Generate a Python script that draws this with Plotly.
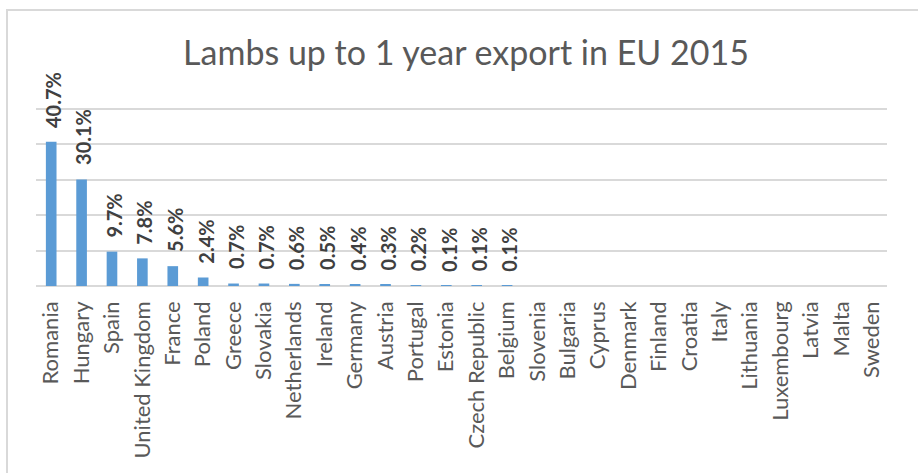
import plotly.graph_objects as go

countries = ["Romania", "Hungary", "Spain", "United Kingdom", "France", "Poland",
             "Greece", "Slovakia", "Netherlands", "Ireland", "Germany", "Austria",
             "Portugal", "Estonia", "Czech Republic", "Belgium", "Slovenia", "Bulgaria",
             "Cyprus", "Denmark", "Finland", "Croatia", "Italy", "Lithuania",
             "Luxembourg", "Latvia", "Malta", "Sweden"]
shares = [40.7, 30.1, 9.7, 7.8, 5.6, 2.4, 0.7, 0.7, 0.6, 0.5, 0.4, 0.3, 0.2,
          0.1, 0.1, 0.1, 0, 0, 0, 0, 0, 0, 0, 0, 0, 0, 0, 0]
y_ticks = [0, 10, 20, 30, 40, 50]

FONT = "Lato"
W, H = 918, 473
L, R, T, B = 36, 31, 105, 187

fig = go.Figure()
fig.add_trace(go.Bar(
    x=countries, y=shares,
    marker=dict(color="#5b9bd5", line=dict(width=0)),
    hoverinfo="x+y",
))

annotations = []
for c, v in zip(countries, shares):
    if v > 0:
        annotations.append(dict(
            x=c, y=v, xref="x", yref="y",
            text=f"<b>{v:.1f}%</b>", showarrow=False,
            textangle=-90, yanchor="bottom", xanchor="center",
            yshift=12, xshift=2,
            font=dict(family=FONT, size=20, color="#404040"),
        ))

pw = W - L - R
ph = H - T - B
fig.update_layout(
    width=W, height=H,
    margin=dict(l=L, r=R, t=T, b=B, pad=0),
    paper_bgcolor="white", plot_bgcolor="white",
    title=dict(text="Lambs up to 1 year export in EU 2015",
               x=466 / W, xanchor="center", y=1 - 53 / H, yanchor="middle",
               font=dict(family=FONT, size=34, color="#595959")),
    bargap=0.65,
    showlegend=False,
    annotations=annotations,
    shapes=[dict(type="rect", xref="paper", yref="paper",
                 x0=(7 - L) / pw, x1=1.2, y0=-3, y1=1 + (T - 10) / ph,
                 line=dict(color="#d9d9d9", width=2), layer="below")],
    xaxis=dict(tickangle=-90, showgrid=False, showline=False, ticks="",
               ticklabelstandoff=10,
               tickfont=dict(family=FONT, size=22, color="#595959")),
    yaxis=dict(range=[0, 51.1], tickvals=y_ticks, showticklabels=False,
               showgrid=True, gridcolor="#d9d9d9", gridwidth=1.5,
               zeroline=True, zerolinecolor="#d9d9d9", zerolinewidth=1.5,
               showline=False, ticks=""),
)

fig.write_html("out.html")
